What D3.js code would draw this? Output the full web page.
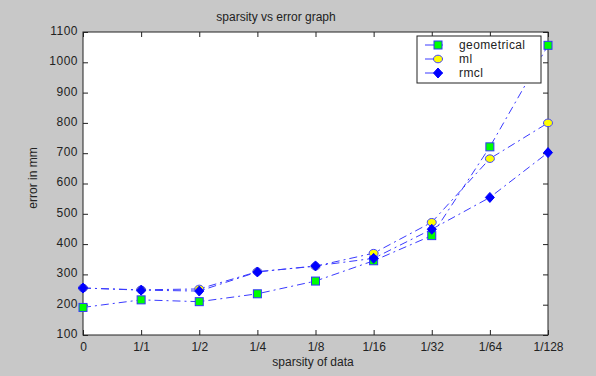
<!DOCTYPE html>
<html>
<head>
<meta charset="utf-8">
<script src="https://cdn.jsdelivr.net/npm/d3@7"></script>
<style>
  body { margin: 0; background: #c8c8c8; }
  svg text { font-family: "Liberation Sans", Arial, sans-serif; fill: #222; }
</style>
</head>
<body>
<div id="chart"></div>
<script>
// sparsity vs error graph
const categories = ['0', '1/1', '1/2', '1/4', '1/8', '1/16', '1/32', '1/64', '1/128'];
const geometrical = [191, 216, 210, 236, 278, 345, 428, 721, 1056];
const ml = [255, 249, 252, 309, 327, 370, 472, 682, 800];
const rmcl = [255, 248, 245, 308, 328, 353, 449, 554, 702];
const yTicks = [100, 200, 300, 400, 500, 600, 700, 800, 900, 1000, 1100];

const series = [
    { name: 'geometrical', values: geometrical, marker: 'square' },
    { name: 'ml', values: ml, marker: 'circle' },
    { name: 'rmcl', values: rmcl, marker: 'diamond' }
];

function renderChart(containerId) {
    const W = 596, H = 376;
    const margin = { top: 32, right: 48, bottom: 41, left: 83 };
    const width = W - margin.left - margin.right;
    const height = H - margin.top - margin.bottom;

    const svg = d3.select(`#${containerId}`)
        .append('svg')
        .attr('width', W)
        .attr('height', H);

    svg.append('rect')
        .attr('width', W).attr('height', H)
        .attr('fill', '#c8c8c8');

    const g = svg.append('g')
        .attr('transform', `translate(${margin.left},${margin.top})`);

    const x = d3.scalePoint()
        .domain(categories)
        .range([0, width]);

    const y = d3.scaleLinear()
        .domain([100, 1100])
        .range([height, 0]);

    g.append('rect')
        .attr('width', width).attr('height', height)
        .attr('fill', '#fff');

    // axes with inward ticks, MATLAB box style
    const styleAxis = sel => {
        sel.select('.domain').remove();
        sel.selectAll('line').attr('stroke', '#222');
        sel.selectAll('text').style('font-size', '12px').attr('fill', '#222');
    };

    g.append('g')
        .attr('transform', `translate(0,${height})`)
        .call(d3.axisBottom(x).tickSizeInner(-5).tickSizeOuter(0).tickPadding(7))
        .call(styleAxis);

    g.append('g')
        .call(d3.axisTop(x).tickSizeInner(-5).tickSizeOuter(0).tickFormat(''))
        .call(styleAxis);

    g.append('g')
        .call(d3.axisLeft(y).tickValues(yTicks).tickFormat(d3.format('d')).tickSizeInner(-5).tickSizeOuter(0).tickPadding(5))
        .call(styleAxis)
        .selectAll('text').attr('dy', '0.2em').style('letter-spacing', '0.5px');

    g.append('g')
        .attr('transform', `translate(${width},0)`)
        .call(d3.axisRight(y).tickValues(yTicks).tickFormat('').tickSizeInner(-5).tickSizeOuter(0))
        .call(styleAxis);

    g.append('rect')
        .attr('width', width).attr('height', height)
        .attr('fill', 'none')
        .attr('stroke', '#222')
        .attr('stroke-width', 1);

    const line = d3.line()
        .x((d, i) => x(categories[i]))
        .y(d => y(d));

    const drawMarker = (sel, type) => {
        if (type === 'square') {
            sel.append('rect')
                .attr('x', -4).attr('y', -4)
                .attr('width', 8).attr('height', 8)
                .attr('fill', '#00ff00')
                .attr('stroke', '#3333ff')
                .attr('stroke-width', 1);
        } else if (type === 'circle') {
            sel.append('ellipse')
                .attr('rx', 4.5).attr('ry', 3.8)
                .attr('fill', '#ffff00')
                .attr('stroke', '#4444ff')
                .attr('stroke-width', 1);
        } else {
            sel.append('path')
                .attr('d', 'M0,-5L4.5,0L0,5L-4.5,0Z')
                .attr('fill', '#0000ff')
                .attr('stroke', '#0000ff')
                .attr('stroke-width', 1);
        }
    };

    series.forEach(s => {
        g.append('path')
            .datum(s.values)
            .attr('fill', 'none')
            .attr('stroke', '#3a3aff')
            .attr('stroke-width', 1)
            .attr('stroke-dasharray', '8,4,2,4')
            .attr('d', line);
    });

    series.forEach(s => {
        g.selectAll(`.m-${s.name}`)
            .data(s.values)
            .enter()
            .append('g')
            .attr('transform', (d, i) => `translate(${x(categories[i])},${y(d)})`)
            .each(function () { drawMarker(d3.select(this), s.marker); });
    });

    // legend
    const legend = svg.append('g').attr('transform', 'translate(417,36)');
    legend.append('rect')
        .attr('width', 124).attr('height', 47)
        .attr('fill', '#fff')
        .attr('stroke', '#222');
    series.forEach((s, i) => {
        const row = legend.append('g').attr('transform', `translate(0,${9 + i * 14})`);
        row.append('line')
            .attr('x1', 8).attr('x2', 26)
            .attr('stroke', '#3a3aff');
        drawMarker(row.append('g').attr('transform', 'translate(21,0)'), s.marker);
        row.append('text')
            .attr('x', 42).attr('dy', '0.35em')
            .style('font-size', '12px')
            .style('letter-spacing', '0.4px')
            .text(s.name);
    });

    svg.append('text')
        .attr('x', 276).attr('y', 21)
        .attr('text-anchor', 'middle')
        .style('font-size', '12px')
        .text('sparsity vs error graph');

    svg.append('text')
        .attr('x', 313).attr('y', 366)
        .attr('text-anchor', 'middle')
        .style('font-size', '12px')
        .text('sparsity of data');

    svg.append('text')
        .attr('transform', 'rotate(-90)')
        .attr('x', -178).attr('y', 37)
        .attr('text-anchor', 'middle')
        .style('font-size', '12px')
        .text('error in mm');
}

renderChart('chart');
</script>
</body>
</html>
